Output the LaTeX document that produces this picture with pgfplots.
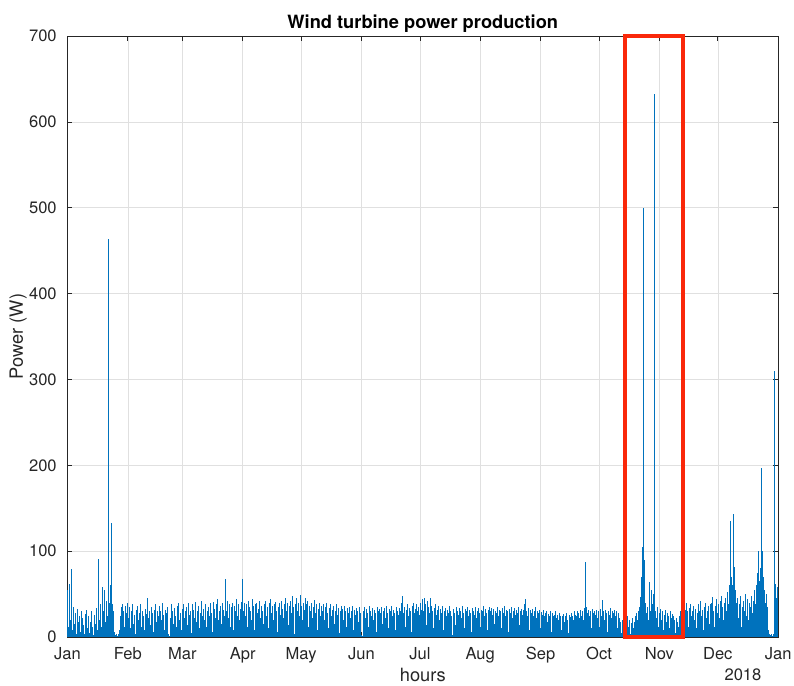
\documentclass[border=0pt]{standalone}
\usepackage{pgfplots}
\usepackage{pgfplotstable}
\pgfplotsset{compat=1.18}
\usepackage{fontspec}
\setmainfont{TeX Gyre Heros}
\definecolor{mblue}{rgb}{0,0.447,0.741}
\definecolor{mred}{RGB}{250,40,10}
\definecolor{axgray}{rgb}{0.15,0.15,0.15}
\pgfplotstableread[row sep=\\]{
p\\
55\\12\\62\\20\\79\\8\\35\\15\\28\\4\\33\\18\\25\\6\\30\\22\\14\\3\\27\\19\\32\\10\\
24\\5\\18\\30\\12\\2\\26\\15\\34\\8\\91\\20\\38\\12\\58\\30\\55\\18\\42\\25\\
463\\40\\60\\133\\38\\30\\6\\2\\4\\1\\3\\8\\25\\35\\18\\38\\30\\12\\36\\28\\
40\\22\\35\\10\\30\\38\\15\\26\\4\\32\\36\\20\\28\\38\\12\\30\\24\\8\\33\\27\\
45\\22\\30\\14\\35\\28\\6\\32\\38\\18\\30\\25\\10\\36\\30\\20\\40\\26\\8\\31\\
28\\35\\3\\1\\22\\38\\30\\15\\34\\25\\12\\36\\40\\20\\28\\8\\33\\38\\22\\30\\
35\\14\\40\\26\\30\\5\\38\\32\\22\\35\\41\\18\\30\\36\\10\\28\\42\\25\\33\\20\\
38\\12\\30\\35\\24\\40\\28\\6\\41\\33\\22\\38\\44\\20\\30\\36\\15\\40\\32\\25\\
67\\30\\42\\22\\38\\12\\35\\40\\28\\8\\36\\30\\44\\25\\38\\20\\33\\41\\67\\30\\
40\\25\\38\\12\\42\\35\\30\\20\\44\\36\\8\\38\\40\\28\\33\\42\\22\\36\\30\\15\\
38\\42\\25\\35\\10\\40\\32\\44\\28\\36\\20\\38\\41\\30\\6\\35\\40\\26\\42\\33\\
22\\38\\45\\30\\40\\14\\36\\42\\28\\48\\35\\4\\38\\46\\30\\40\\25\\49\\36\\20\\
40\\32\\45\\26\\38\\42\\12\\36\\30\\40\\22\\35\\43\\28\\38\\8\\33\\40\\25\\36\\
30\\38\\20\\35\\40\\28\\10\\34\\38\\25\\32\\36\\15\\30\\38\\26\\34\\5\\30\\36\\
28\\33\\20\\36\\30\\12\\34\\28\\35\\22\\30\\36\\8\\32\\26\\34\\30\\18\\35\\28\\
2\\1\\30\\35\\22\\33\\28\\12\\36\\30\\25\\34\\20\\32\\28\\6\\35\\30\\24\\33\\
28\\35\\15\\30\\34\\22\\36\\28\\10\\33\\30\\36\\24\\32\\28\\8\\35\\30\\26\\34\\
30\\40\\48\\28\\35\\12\\32\\38\\25\\34\\30\\6\\36\\40\\28\\33\\22\\38\\30\\35\\
26\\40\\32\\44\\30\\46\\38\\14\\42\\35\\28\\46\\36\\30\\10\\34\\38\\26\\32\\36\\
20\\33\\28\\36\\8\\30\\34\\24\\32\\28\\36\\30\\25\\2\\1\\33\\28\\14\\35\\30\\
26\\34\\30\\22\\36\\28\\10\\33\\30\\35\\24\\32\\28\\6\\34\\30\\26\\35\\22\\30\\
34\\28\\12\\32\\30\\36\\25\\33\\28\\8\\31\\35\\22\\30\\34\\26\\33\\15\\30\\28\\
35\\24\\32\\30\\10\\34\\28\\36\\25\\32\\30\\6\\33\\28\\35\\22\\30\\34\\26\\31\\
28\\35\\14\\30\\33\\26\\32\\38\\44\\28\\30\\24\\34\\8\\31\\28\\33\\25\\30\\35\\
22\\30\\28\\32\\10\\29\\26\\31\\24\\28\\30\\18\\27\\25\\30\\6\\28\\24\\26\\30\\
22\\26\\20\\28\\24\\8\\25\\22\\27\\18\\24\\28\\20\\5\\26\\23\\28\\25\\20\\30\\
26\\24\\30\\28\\22\\32\\25\\30\\20\\34\\87\\35\\28\\32\\24\\30\\10\\33\\28\\30\\
26\\32\\22\\30\\12\\28\\33\\25\\43\\30\\20\\32\\28\\6\\30\\26\\34\\22\\30\\28\\
32\\25\\30\\10\\28\\22\\18\\5\\20\\14\\22\\8\\18\\24\\12\\20\\3\\16\\22\\10\\
18\\25\\12\\28\\20\\30\\35\\47\\70\\105\\500\\90\\40\\28\\35\\20\\64\\30\\55\\38\\
50\\632\\30\\22\\35\\12\\28\\33\\20\\30\\8\\26\\32\\18\\28\\24\\10\\30\\22\\27\\
15\\25\\20\\5\\22\\18\\12\\24\\30\\35\\28\\38\\22\\32\\40\\30\\12\\34\\38\\25\\
30\\36\\20\\33\\10\\28\\38\\30\\42\\25\\32\\8\\35\\40\\22\\30\\36\\15\\38\\28\\
40\\47\\30\\12\\36\\44\\28\\38\\22\\42\\48\\35\\20\\40\\46\\30\\52\\38\\60\\135\\
70\\60\\143\\82\\55\\40\\45\\22\\38\\48\\12\\35\\42\\30\\50\\25\\38\\44\\20\\40\\
35\\48\\28\\42\\55\\38\\60\\75\\100\\65\\80\\197\\100\\70\\55\\40\\50\\35\\8\\3\\
2\\4\\1\\3\\310\\62\\45\\58\\
}\powerdata
\begin{document}
\begin{tikzpicture}
\begin{axis}[
  at={(0,0)}, anchor=south west,
  scale only axis, width=533pt, height=450.75pt,
  xmin=0, xmax=365, ymin=0, ymax=700,
  clip=false,
  xtick={0,31,59,90,120,151,181,212,243,273,304,334,365},
  xticklabels={Jan,Feb,Mar,Apr,May,Jun,Jul,Aug,Sep,Oct,Nov,Dec,Jan},
  ytick={0,100,200,300,400,500,600,700},
  grid=major,
  major grid style={black!12, line width=0.4pt},
  tick align=inside,
  major tick length=3.75pt,
  axis line style={axgray, line width=0.5pt},
  every tick/.style={axgray, line width=0.5pt},
  /pgf/number format/assume math mode=true,
  tick label style={font=\fontsize{12.4}{14}\selectfont, text=axgray},
  xticklabel style={anchor=base, inner sep=0pt},
  xticklabel shift=17.2pt,
  yticklabel style={anchor=east, inner sep=0pt},
  yticklabel shift=7.9pt,
  xlabel={hours},
  xlabel style={at={(axis description cs:0.5,-0.0632)}, anchor=center, font=\fontsize{13.7}{16}\selectfont, text=axgray},
  ylabel={Power (W)},
  ylabel style={at={(axis description cs:-0.0694,0.5)}, anchor=center, font=\fontsize{13.7}{16}\selectfont, text=axgray},
  title={Wind turbine power production},
  title style={at={(axis description cs:0.5,1.0075)}, anchor=center, font=\fontsize{13.7}{16}\selectfont\bfseries, text=black},
]
\addplot[ycomb, mblue, line width=0.72pt, mark=none] table[x expr=\coordindex*0.5, y=p] {\powerdata};
\draw[mred, line width=3pt] (axis cs:286.4,0) rectangle (axis cs:316,700);
\node[font=\fontsize{12.4}{14}\selectfont, text=axgray, anchor=center] at (axis description cs:0.9505,-0.0632) {2018};
\end{axis}
\pgfresetboundingbox
\path[use as bounding box] (-50.6pt,-36.75pt) rectangle (544.9pt,477.75pt);
\end{tikzpicture}
\end{document}
